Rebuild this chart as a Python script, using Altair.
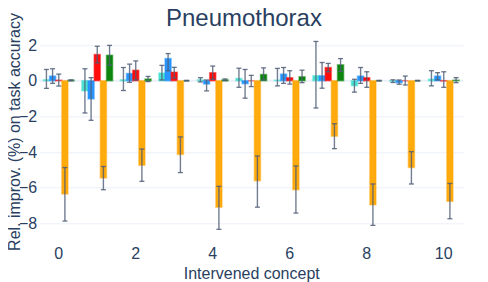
import altair as alt
import pandas as pd

# ---------------- data ----------------
concepts = list(range(11))
series = ["Series 1", "Series 2", "Series 3", "Series 4", "Series 5"]
colors = ["#40E0D0", "#1E90FF", "#FF0000", "#FFA500", "#008000"]

s1_val = [0.05, -0.57, 0.05, 0.43, 0.05, 0.13, 0.03, 0.28, -0.28, -0.03, 0.08]
s1_lo = [-0.43, -1.81, -0.55, 0.04, -0.07, -0.37, -0.29, -1.53, -0.64, -0.10, -0.29]
s1_hi = [0.63, 0.67, 0.74, 0.86, 0.17, 0.70, 0.69, 2.20, 0.08, 0.05, 0.56]

s2_val = [0.26, -1.02, 0.41, 1.24, -0.19, -0.17, 0.37, 0.28, 0.26, -0.11, 0.26]
s2_lo = [-0.15, -2.22, -0.09, 0.56, -0.57, -0.98, -0.15, -0.42, -0.15, -0.20, 0.04]
s2_hi = [0.67, 0.17, 0.93, 1.52, 0.04, 0.63, 0.74, 1.02, 0.74, 0.04, 0.45]

s3_val = [0.03, 1.47, 0.59, 0.48, 0.45, 0.00, 0.17, 0.74, 0.17, 0.00, -0.02]
s3_lo = [-0.30, 1.00, 0.04, 0.15, 0.08, -0.33, -0.19, 0.50, -0.37, -0.24, -0.37]
s3_hi = [0.37, 1.93, 1.11, 0.75, 0.82, 0.30, 0.56, 0.97, 0.50, 0.26, 0.50]

s4_val = [-6.35, -5.46, -4.74, -4.13, -7.09, -5.61, -6.11, -3.11, -6.96, -4.87, -6.76]
s4_lo = [-7.87, -6.11, -5.64, -5.15, -8.33, -7.09, -7.42, -3.81, -8.11, -5.79, -7.74]
s4_hi = [-4.87, -4.81, -3.83, -3.15, -5.92, -4.22, -4.78, -2.41, -5.79, -3.98, -5.76]

s5_val = [0.02, 1.43, 0.09, 0.00, 0.05, 0.35, 0.22, 0.89, 0.00, 0.00, 0.03]
s5_lo = [-0.01, 0.87, -0.05, -0.02, 0.00, 0.04, -0.11, 0.52, -0.02, -0.02, -0.11]
s5_hi = [0.05, 1.98, 0.24, 0.02, 0.10, 0.72, 0.59, 1.24, 0.02, 0.02, 0.17]

y_ticks = [-8, -6, -4, -2, 0, 2]
x_ticks = [0, 2, 4, 6, 8, 10]

# ---------------- table ----------------
vals = [s1_val, s2_val, s3_val, s4_val, s5_val]
los = [s1_lo, s2_lo, s3_lo, s4_lo, s5_lo]
his = [s1_hi, s2_hi, s3_hi, s4_hi, s5_hi]
rows = []
for si, name in enumerate(series):
    for ci, c in enumerate(concepts):
        rows.append({"concept": c, "series": name, "value": vals[si][ci],
                     "lo": los[si][ci], "hi": his[si][ci]})
df = pd.DataFrame(rows)

FONT = "Liberation Sans"
TXT = "#2a3f5f"
GRID = "#EBF0F8"

x_enc = alt.X("concept:O", title="Intervened concept",
              scale=alt.Scale(paddingInner=0.2, paddingOuter=0.1),
              axis=alt.Axis(values=x_ticks, labelAngle=0, grid=False, domain=False,
                            ticks=False, labelFont=FONT, labelFontSize=16,
                            labelColor=TXT, labelBaseline="alphabetic", labelPadding=20.5,
                            titleFont=FONT, titleFontSize=16, titleColor=TXT,
                            titleFontWeight="normal", titleBaseline="alphabetic",
                            titleY=40.6))
xoff = alt.XOffset("series:N", sort=series,
                   scale=alt.Scale(domain=series, paddingInner=0, paddingOuter=0))
y_scale = alt.Scale(domain=[-8.8, 2.6], nice=False, zero=False)
y_axis = alt.Axis(values=y_ticks, grid=True, gridColor=GRID, gridWidth=1,
                  domain=False, ticks=False, labelFont=FONT, labelFontSize=16,
                  labelColor=TXT, labelPadding=2.8,
                  titleFont=FONT, titleFontSize=16, titleColor=TXT,
                  titleFontWeight="normal", titleAngle=270, titleAlign="center",
                  titleBaseline="alphabetic", titleX=-20, titleY=97.2)
color_enc = alt.Color("series:N", scale=alt.Scale(domain=series, range=colors), legend=None)

base = alt.Chart(df)

zero = alt.Chart(pd.DataFrame({"z": [0]})).mark_rule(color=GRID, strokeWidth=2).encode(
    y=alt.Y("z:Q", scale=y_scale))

bars = base.mark_bar(strokeWidth=1.5, strokeOpacity=0.45, fillOpacity=0.95).encode(
    x=x_enc, xOffset=xoff,
    y=alt.Y("value:Q", scale=y_scale, axis=y_axis, title="Rel. improv. (%) on task accuracy"),
    y2=alt.Y2(datum=0),
    color=color_enc, stroke=color_enc,
)

ERR = "#4f5d75"
err = base.mark_rule(color=ERR, strokeWidth=1.4, opacity=0.8).encode(
    x="concept:O", xOffset=xoff, y=alt.Y("lo:Q", scale=y_scale), y2="hi:Q")
cap_lo = base.mark_tick(color=ERR, size=5, thickness=1.3, opacity=0.85).encode(
    x="concept:O", xOffset=xoff, y=alt.Y("lo:Q", scale=y_scale))
cap_hi = base.mark_tick(color=ERR, size=5, thickness=1.3, opacity=0.85).encode(
    x="concept:O", xOffset=xoff, y=alt.Y("hi:Q", scale=y_scale))

chart = alt.layer(zero, bars, err, cap_lo, cap_hi).properties(
    width=423.6, height=203.4,
    title=alt.TitleParams("Pneumothorax", font=FONT, fontSize=24, color=TXT,
                          fontWeight="normal", anchor="middle", baseline="alphabetic",
                          offset=0, dx=-7.3, dy=37.5),
    autosize=alt.AutoSizeParams(type="none"),
    padding={"left": 31.5, "top": 26.3, "right": 17, "bottom": 44.3},
    background="white",
).configure_view(stroke=None)

chart.save("out.html", embed_options={"renderer": "svg", "actions": False})
